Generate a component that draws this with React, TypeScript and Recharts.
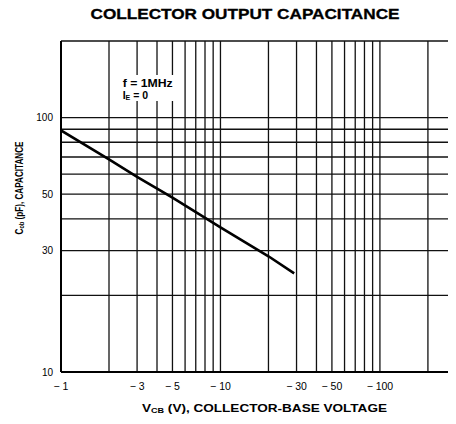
import React from 'react';
import { LineChart, Line, XAxis, YAxis, CartesianGrid } from 'recharts';

// Collector-base voltage (V) and output capacitance (pF)
const vcbVolts = [-1, -2, -3, -5, -10, -20, -29];
const cobPf = [89, 68.5, 58.5, 48.5, 37, 28.5, 24.4];

// Grid lines (log paper) and labelled ticks
const xGridVolts = [-1, -2, -3, -4, -5, -6, -7, -8, -9, -10, -20, -30, -40, -50, -60, -70, -80, -90, -100, -200];
const xLabelVolts = [-1, -3, -5, -10, -30, -50, -100];
const yGridPf = [10, 20, 30, 40, 50, 60, 70, 80, 90, 100, 200];
const yLabelPf = [10, 30, 50, 100];

const titleText = 'COLLECTOR OUTPUT CAPACITANCE';
const conditionF = 'f = 1MHz';

const data = vcbVolts.map((v, i) => ({ vMag: -v, cob: cobPf[i] }));

const FONT = '"Liberation Sans", Arial, Helvetica, sans-serif';

export default function App() {
  return (
    <div style={{ position: 'relative', width: 448, height: 416, fontFamily: FONT }}>
      <LineChart
        width={448}
        height={416}
        data={data}
        margin={{ top: 33, right: 0, bottom: 22, left: 13 }}
      >
        <CartesianGrid stroke="#111" strokeWidth={1.3} />
        <XAxis
          dataKey="vMag"
          type="number"
          scale="log"
          domain={[1, 300]}
          allowDataOverflow
          ticks={xGridVolts.map((v) => -v)}
          interval={0}
          tickLine={false}
          tickSize={0}
          tickMargin={11}
          height={30}
          axisLine={{ stroke: '#000', strokeWidth: 2 }}
          tick={{ fill: '#000', fontSize: 10.5, fontFamily: FONT }}
          tickFormatter={(v: number) => (xLabelVolts.includes(-v) ? `\u2212 ${v}` : '')}
        />
        <YAxis
          type="number"
          scale="log"
          domain={[10, 200]}
          allowDataOverflow
          ticks={yGridPf}
          interval={0}
          tickLine={false}
          tickSize={0}
          tickMargin={8}
          width={40}
          axisLine={{ stroke: '#000', strokeWidth: 2 }}
          tick={{ fill: '#000', fontSize: 10, fontFamily: FONT }}
          tickFormatter={(v: number) => (yLabelPf.includes(v) ? String(v) : '')}
        />
        <Line
          dataKey="cob"
          type="linear"
          stroke="#000"
          strokeWidth={2.6}
          dot={false}
          isAnimationActive={false}
        />
      </LineChart>
      <svg
        width={456}
        height={424}
        style={{ position: 'absolute', left: -8, top: -8, pointerEvents: 'none' }}
      >
        <text
          x={245}
          y={19.3}
          textAnchor="middle"
          fontFamily={FONT}
          fontWeight="bold"
          fontSize={14}
          textLength={309}
          lengthAdjust="spacingAndGlyphs"
          stroke="#000"
          strokeWidth={0.3}
          fill="#000"
        >
          {titleText}
        </text>
        <rect x={118} y={75} width={60} height={26} fill="#fff" />
        <text x={122.7} y={86.7} fontFamily={FONT} fontSize={10.5} fontWeight="bold" textLength={50} lengthAdjust="spacingAndGlyphs" fill="#000">
          {conditionF}
        </text>
        <text x={122.7} y={99} fontFamily={FONT} fontSize={10.5} fontWeight="bold" fill="#000">
          I<tspan fontSize={7} dy={1}>E</tspan><tspan dy={-1}> = 0</tspan>
        </text>
        <text
          x={142}
          y={411.7}
          fontFamily={FONT}
          fontWeight="bold"
          fontSize={10.5}
          textLength={245}
          lengthAdjust="spacingAndGlyphs"
          fill="#000"
        >
          V<tspan fontSize={7} dy={1}>CB</tspan><tspan dy={-1}> (V), COLLECTOR-BASE VOLTAGE</tspan>
        </text>
        <text
          x={23}
          y={188}
          textAnchor="middle"
          transform="rotate(-90 23 188)"
          fontFamily={FONT}
          fontWeight="bold"
          fontSize={10}
          textLength={93}
          lengthAdjust="spacingAndGlyphs"
          fill="#000"
        >
          C<tspan fontSize={7} dy={1}>ob</tspan><tspan dy={-1}> (pF), CAPACITANCE</tspan>
        </text>
      </svg>
    </div>
  );
}
